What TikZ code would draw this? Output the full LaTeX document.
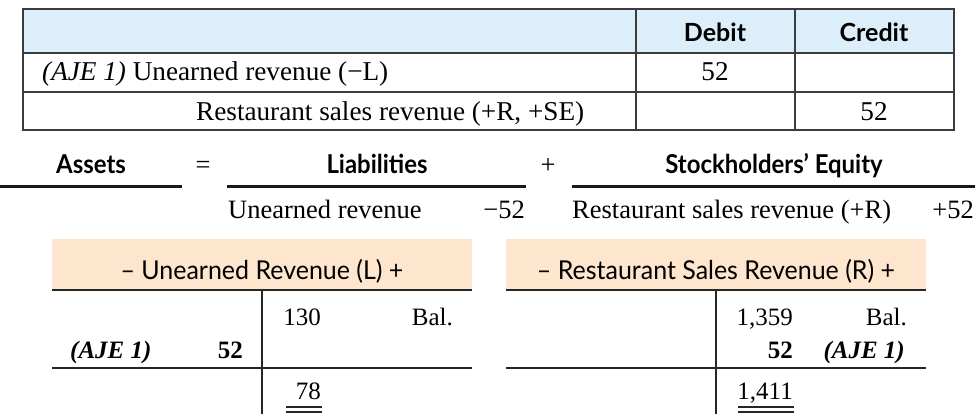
\documentclass[tikz,border=0pt]{standalone}
\usepackage{fontspec}
\setmainfont{Liberation Serif}
\newfontfamily\headsans{Lato}
\newfontfamily\condsans[FakeStretch=0.92]{Lato}
\newfontfamily\tsans[FakeStretch=0.96]{Lato}
\usetikzlibrary{positioning}
\definecolor{hdrblue}{HTML}{DCEEF9}
\definecolor{hdrpeach}{HTML}{FDE5CE}
\definecolor{rulegray}{HTML}{3C3C3C}
\tikzset{
  cell/.style={font=\fontsize{27.2}{31}\selectfont, inner sep=0pt},
  eqcell/.style={font=\fontsize{26.5}{30}\selectfont, inner sep=0pt},
  acct/.style={font=\fontsize{25}{29}\selectfont, inner sep=0pt},
  colhead/.style={font=\headsans\bfseries\fontsize{25}{29}\selectfont, inner sep=0pt},
  eqhead/.style={font=\condsans\bfseries\fontsize{26}{30}\selectfont, inner sep=0pt},
  tacchead/.style={font=\tsans\fontsize{26}{30}\selectfont, inner sep=0pt},
  tablerule/.style={draw=rulegray, line width=1.4pt},
  eqrule/.style={draw=black!90, line width=3pt},
  trule/.style={draw=black!85, line width=2.6pt},
  dblrule/.style={draw=black!85, line width=1.1pt}
}
\begin{document}
\begin{tikzpicture}[x=1pt,y=-1pt]
\useasboundingbox (0,0) rectangle (975,420);

\fill[hdrblue] (23,9) rectangle (954,53);
\draw[tablerule] (23,9) rectangle (954,130);
\draw[tablerule] (23,53) -- (954,53) (23,92) -- (954,92);
\draw[tablerule] (636,9) -- (636,130) (795,9) -- (795,130);

\node[colhead, anchor=base] (debit) at (715,42) {Debit};
\node[colhead, anchor=base] (credit) at (874,42) {Credit};
\node[cell, anchor=base west] (entry1) at (42,81) {\textit{(AJE 1)} Unearned revenue (−L)};
\node[cell, anchor=base west] (entry2) at (196,120) {Restaurant sales revenue (+R, +SE)};
\node[cell, anchor=base] (dr1) at (715,81) {52};
\node[cell, anchor=base] (cr2) at (874,120) {52};

\node[eqhead, anchor=base] (assets) at (91,173) {Assets};
\node[eqcell, anchor=base] (eqsign) at (203,173) {=};
\node[eqhead, anchor=base] (liab) at (377,173) {Liabilities};
\node[eqcell, anchor=base] (plussign) at (548,173) {+};
\node[eqhead, anchor=base] (equity) at (774,173) {Stockholders’ Equity};
\draw[eqrule] (0,186) -- (182,186) (227,186) -- (526,186) (572,186) -- (975,186);
\node[eqcell, anchor=base west] (liabacct) at (228,218) {Unearned revenue};
\node[eqcell, anchor=base east] (liabamt) at (525,218) {−52};
\node[eqcell, anchor=base west] (seacct) at (572,218) {Restaurant sales revenue (+R)};
\node[eqcell, anchor=base east] (seamt) at (974,218) {+52};

\foreach \cx in {262,716}{
  \fill[hdrpeach] (\cx-210,239) rectangle (\cx+210,290);
  \draw[trule] (\cx-210,290) -- (\cx+210,290) (\cx-210,368) -- (\cx+210,368);
  \draw[trule] (\cx,290) -- (\cx,414);
}
\node[tacchead, anchor=base] (urhead) at (262,279) {\textendash\ Unearned Revenue (L) +};
\node[tacchead, anchor=base] (rshead) at (716,279) {\textendash\ Restaurant Sales Revenue (R) +};

\node[acct, anchor=base east] (urbal) at (321,325) {130};
\node[acct, anchor=base east] (urballbl) at (453,325) {Bal.};
\node[acct, anchor=base west] (urajelbl) at (70,358) {\textbf{\textit{(AJE 1)}}};
\node[acct, anchor=base east] (uraje) at (243,358) {\textbf{52}};
\node[acct, anchor=base east] (urend) at (321,399) {78};
\draw[dblrule] (286,407) -- (322,407) (286,412) -- (322,412);

\node[acct, anchor=base east] (rsbal) at (793,325) {1,359};
\node[acct, anchor=base east] (rsballbl) at (907,325) {Bal.};
\node[acct, anchor=base east] (rsaje) at (793,358) {\textbf{52}};
\node[acct, anchor=base east] (rsajelbl) at (905,358) {\textbf{\textit{(AJE 1)}}};
\node[acct, anchor=base east] (rsend) at (793,399) {1,411};
\draw[dblrule] (738,407) -- (794,407) (738,412) -- (794,412);
\end{tikzpicture}
\end{document}
